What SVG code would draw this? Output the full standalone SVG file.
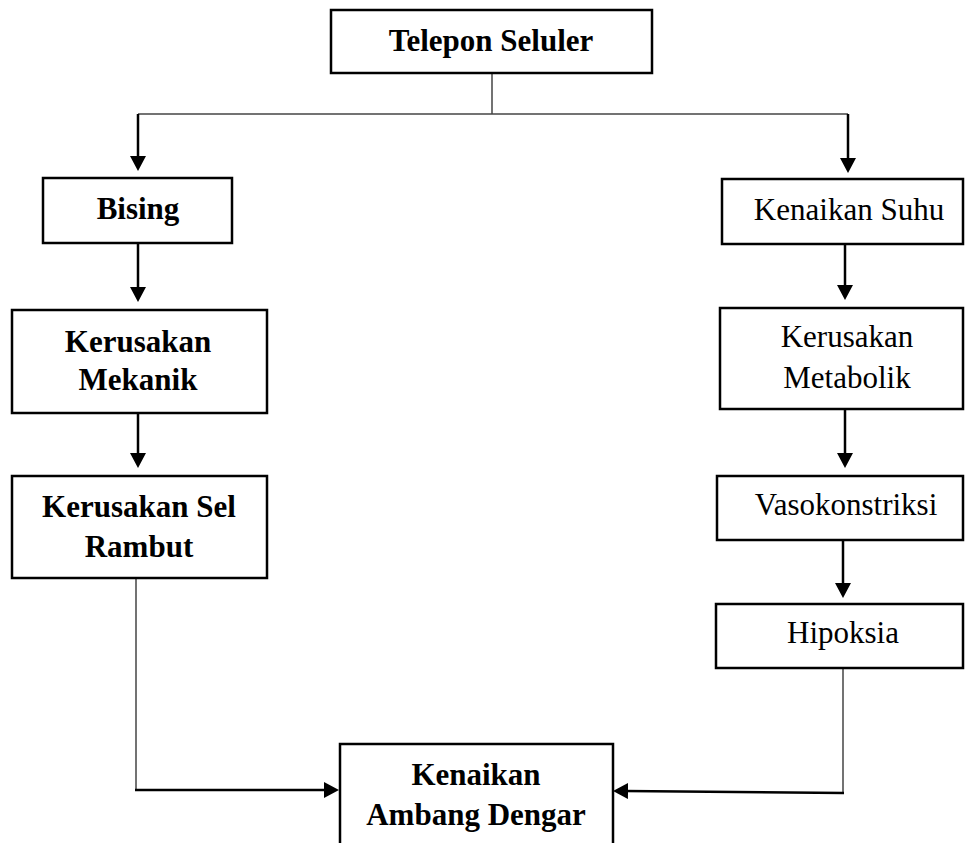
<svg xmlns="http://www.w3.org/2000/svg" width="966" height="843" viewBox="0 0 966 843">
<style>
  .box { fill: #fff; stroke: #000; stroke-width: 2.5; }
  .t { font-family: "Liberation Serif", "Times New Roman", serif; font-size: 31px; fill: #000; text-anchor: middle; }
  .b { font-weight: bold; }
  .arr { fill: none; stroke: #000; stroke-width: 2.5; marker-end: url(#ah); }
  .thin { fill: none; stroke: #444; stroke-width: 1.5; }
</style>
<defs>
  <marker id="ah" markerUnits="userSpaceOnUse" markerWidth="16" markerHeight="16" viewBox="0 0 16 16" refX="3" refY="8" orient="auto">
    <path d="M0,0 L15,8 L0,16 z" fill="#000"/>
  </marker>
</defs>
<rect width="966" height="843" fill="#fff"/>

<g id="connectors">
  <path class="thin" d="M492,73 L492,114"/>
  <path class="thin" d="M138,114 L848,114"/>
  <path class="arr" d="M138,114 L138,159"/>
  <path class="arr" d="M848,114 L848,161"/>
  <path class="arr" d="M138,243 L138,290"/>
  <path class="arr" d="M138,413 L138,456"/>
  <path class="arr" d="M845,244 L845,288"/>
  <path class="arr" d="M845,409 L845,456"/>
  <path class="arr" d="M843,540 L843,586"/>
  <path class="thin" d="M136,578 L136,790"/>
  <path class="arr" d="M135,790 L327,790"/>
  <path class="thin" d="M843,668 L843,793"/>
  <path class="arr" d="M844,793 L625,791"/>
</g>

<g id="telepon">
  <rect class="box" x="331" y="10" width="321" height="63"/>
  <text class="t b" x="491" y="51">Telepon Seluler</text>
</g>
<g id="bising">
  <rect class="box" x="43" y="178" width="189" height="65"/>
  <text class="t b" x="138" y="219">Bising</text>
</g>
<g id="kerusakan-mekanik">
  <rect class="box" x="12" y="310" width="255" height="103"/>
  <text class="t b" x="138" y="352">Kerusakan</text>
  <text class="t b" x="138" y="390">Mekanik</text>
</g>
<g id="kerusakan-sel-rambut">
  <rect class="box" x="12" y="476" width="255" height="102"/>
  <text class="t b" x="139" y="517">Kerusakan Sel</text>
  <text class="t b" x="139" y="557">Rambut</text>
</g>
<g id="kenaikan-suhu">
  <rect class="box" x="722" y="179" width="241" height="65"/>
  <text class="t" x="849" y="220">Kenaikan Suhu</text>
</g>
<g id="kerusakan-metabolik">
  <rect class="box" x="720" y="308" width="243" height="101"/>
  <text class="t" x="847" y="347">Kerusakan</text>
  <text class="t" x="847" y="388">Metabolik</text>
</g>
<g id="vasokonstriksi">
  <rect class="box" x="717" y="476" width="246" height="64"/>
  <text class="t" x="846" y="515">Vasokonstriksi</text>
</g>
<g id="hipoksia">
  <rect class="box" x="716" y="604" width="247" height="64"/>
  <text class="t" x="843" y="643">Hipoksia</text>
</g>
<g id="kenaikan-ambang-dengar">
  <rect class="box" x="340" y="744" width="273" height="110"/>
  <text class="t b" x="476" y="785">Kenaikan</text>
  <text class="t b" x="476" y="825">Ambang Dengar</text>
</g>
</svg>
